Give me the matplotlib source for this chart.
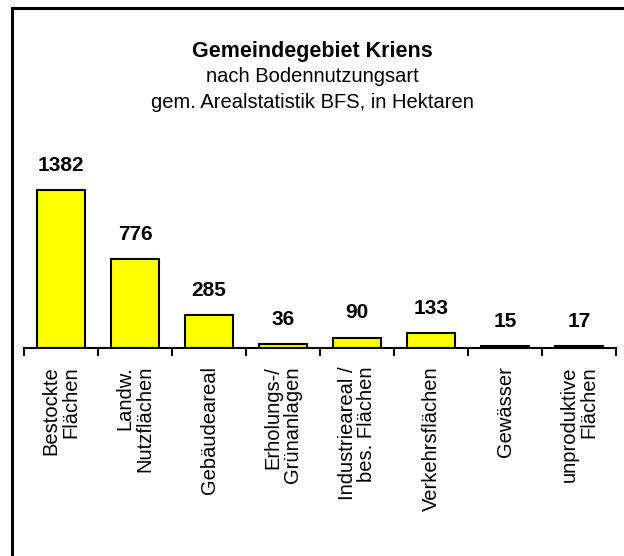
import numpy as np
import matplotlib
matplotlib.use("Agg")
import matplotlib.pyplot as plt
from matplotlib.lines import Line2D

categories = ["Bestockte\nFlächen", "Landw.\nNutzflächen", "Gebäudeareal",
              "Erholungs-/\nGrünanlagen", "Industrieareal /\nbes. Flächen",
              "Verkehrsflächen", "Gewässer", "unproduktive\nFlächen"]
values = [1382, 776, 285, 36, 90, 133, 15, 17]

title = "Gemeindegebiet Kriens"
subtitle1 = "nach Bodennutzungsart"
subtitle2 = "gem. Arealstatistik BFS, in Hektaren"

plt.rcParams['font.family'] = ['Liberation Sans', 'DejaVu Sans']

W, H = 624, 556
fig = plt.figure(figsize=(W / 100, H / 100), dpi=100)

# axes placed in pixel terms
x0, x1 = 24, 616
y_base, y_top = 348, 160
ax = fig.add_axes([x0 / W, (H - y_base) / H, (x1 - x0) / W, (y_base - y_top) / H])

x = np.arange(len(values))
ax.bar(x, values, width=0.66, color='#ffff00', edgecolor='black', linewidth=1.5)
for xi, v in zip(x, values):
    ax.annotate(str(v), (xi, v), xytext=(0, 11), textcoords='offset points',
                ha='center', va='bottom', fontsize=15, fontweight='bold')

ax.set_xlim(-0.5, len(values) - 0.5)
ax.set_ylim(0, (y_base - y_top) / (158 / 1382))
for s in ['top', 'right', 'left']:
    ax.spines[s].set_visible(False)
ax.spines['bottom'].set_linewidth(1.5)
ax.set_yticks([])
ax.set_xticks(np.arange(-0.5, len(values)), labels=[])
ax.tick_params(axis='x', which='major', length=6, width=1.5, direction='out')
ax.set_xticks(x, labels=categories, minor=True)
ax.tick_params(axis='x', which='minor', length=0, pad=13)
for lbl in ax.get_xticklabels(minor=True):
    lbl.set_rotation(90)
    lbl.set_va('top')
    lbl.set_ha('center')
    lbl.set_multialignment('right')
    lbl.set_fontsize(14.5)
    lbl.set_linespacing(1.05)

fig.text(0.5, 1 - 51 / H, title, ha='center', va='center', fontsize=15.5, fontweight='bold')
fig.text(0.5, 1 - 77 / H, subtitle1, ha='center', va='center', fontsize=14.5)
fig.text(0.5, 1 - 102 / H, subtitle2, ha='center', va='center', fontsize=14.5)

# frame: only top and left edges are inside the picture
fig.add_artist(Line2D([12 / W, 12 / W], [0, 1 - 8 / H], color='black', lw=2.2))
fig.add_artist(Line2D([12 / W, 1], [1 - 8 / H, 1 - 8 / H], color='black', lw=2.2))

fig.savefig("out.png", dpi=100)
